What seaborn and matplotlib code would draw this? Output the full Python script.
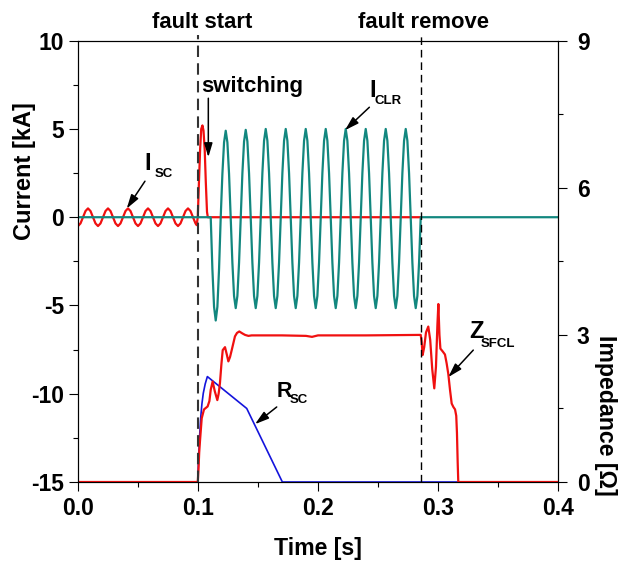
import numpy as np
import matplotlib
matplotlib.use("Agg")
import matplotlib.pyplot as plt
import seaborn as sns
from matplotlib import font_manager
from matplotlib.ticker import MultipleLocator, FixedLocator, FixedFormatter
import matplotlib.transforms as mtransforms

# ---------------- data ----------------
# Short-circuit current I_SC [kA]: pre-fault 60 Hz load current (8 samples / cycle)
isc_pre_vals = [-0.50, -0.35, 0.00, 0.35, 0.50, 0.35, 0.00, -0.35,
                -0.50, -0.35, 0.00, 0.35, 0.50, 0.35, 0.00, -0.35,
                -0.50, -0.35, 0.00, 0.35, 0.50, 0.35, 0.00, -0.35,
                -0.50, -0.35, 0.00, 0.35, 0.50, 0.35, 0.00, -0.35,
                -0.50, -0.35, 0.00, 0.35, 0.50, 0.35, 0.00, -0.35,
                -0.50, -0.35, 0.00, 0.35, 0.50, 0.35, 0.00, -0.35]
isc_pre_t = np.linspace(0.0, 47 / 480, 48)
# fault spike then commutation to zero
isc_post_t = [0.0989, 0.0998, 0.1008, 0.1018, 0.1027, 0.1037, 0.1046, 0.1056,
              0.1065, 0.1075, 0.1082, 0.2856]
isc_post_vals = [-0.45, 0.00, 2.00, 3.90, 5.00, 5.20, 4.90, 3.80,
                 2.00, 0.30, 0.00, 0.00]

# Current through the current-limiting reactor I_CLR [kA] (12 samples / cycle)
iclr_vals = [
    0.00, -2.93, -5.07, -5.85, -5.07, -2.93,
    0.00, 2.45, 4.24, 4.90, 4.24, 2.45,
    0.00, -2.58, -4.46, -5.15, -4.46, -2.58,
    0.00, 2.48, 4.29, 4.95, 4.29, 2.48,
    0.00, -2.58, -4.46, -5.15, -4.46, -2.58,
    0.00, 2.50, 4.33, 5.00, 4.33, 2.50,
    0.00, -2.58, -4.46, -5.15, -4.46, -2.58,
    0.00, 2.50, 4.33, 5.00, 4.33, 2.50,
    0.00, -2.58, -4.46, -5.15, -4.46, -2.58,
    0.00, 2.50, 4.33, 5.00, 4.33, 2.50,
    0.00, -2.58, -4.46, -5.15, -4.46, -2.58,
    0.00, 2.50, 4.33, 5.00, 4.33, 2.50,
    0.00, -2.58, -4.46, -5.15, -4.46, -2.58,
    0.00, 2.50, 4.33, 5.00, 4.33, 2.50,
    0.00, -2.58, -4.46, -5.15, -4.46, -2.58,
    0.00, 2.50, 4.33, 5.00, 4.33, 2.50,
    0.00, -2.58, -4.46, -5.15, -4.46, -2.58,
    0.00, 2.50, 4.33, 5.00, 4.33, 2.50,
    0.00, -2.58, -4.46, -5.15, -4.46, -2.58,
    0.00, 2.50, 4.33, 5.00, 4.33, 2.50,
    0.00, -2.58, -4.46, -5.15, -4.46, -2.58,
    0.00,
]
iclr_t_osc = np.linspace(0.1106, 0.2856, len(iclr_vals))

# SFCL impedance Z_SFCL [ohm]
z_t = [0.0, 0.0998, 0.1004, 0.1010, 0.1017, 0.1031, 0.1050, 0.1080, 0.1095,
       0.1106, 0.1122, 0.1140, 0.1161, 0.1172, 0.1183, 0.1195, 0.1206, 0.1225,
       0.1240, 0.1253, 0.1267, 0.1281, 0.1308, 0.1325, 0.1344, 0.1370, 0.1392,
       0.1420, 0.1447, 0.1700, 0.1900, 0.1950, 0.2000, 0.2400, 0.2856, 0.2864,
       0.2872, 0.2885, 0.2900, 0.2919, 0.2935, 0.2952, 0.2969, 0.2983, 0.2995,
       0.3003, 0.3012, 0.3020, 0.3040, 0.3058, 0.3072, 0.3086, 0.3100, 0.3114,
       0.3128, 0.3142, 0.3152, 0.3158, 0.3164, 0.3169, 0.4000]
z_vals = [0.00, 0.00, 0.25, 0.60, 0.85, 1.30, 1.48, 1.54, 1.65,
          1.88, 2.05, 1.85, 1.67, 1.80, 2.02, 2.40, 2.69, 2.75,
          2.60, 2.46, 2.55, 2.69, 2.97, 3.04, 3.07, 3.03, 3.00,
          2.98, 2.99, 2.99, 2.98, 2.96, 2.99, 2.99, 3.00, 2.85,
          2.59, 2.75, 3.05, 3.17, 2.90, 2.30, 1.91, 2.35, 3.20,
          3.63, 3.00, 2.72, 2.66, 2.60, 2.42, 2.20, 1.88, 1.60,
          1.53, 1.48, 1.35, 1.00, 0.40, 0.00, 0.00]

# Superconducting element resistance R_SC [ohm]
r_t = [0.0998, 0.1002, 0.1008, 0.1015, 0.1023, 0.1033, 0.1044, 0.1060,
       0.1078, 0.1406, 0.1703, 0.4000]
r_vals = [0.00, 0.30, 0.65, 1.00, 1.33, 1.60, 1.81, 2.00,
          2.15, 1.50, 0.00, 0.00]

fault_start = 0.0998
fault_remove = 0.2857

x_ticks = [0.0, 0.1, 0.2, 0.3, 0.4]
x_ticklabels = ["0.0", "0.1", "0.2", "0.3", "0.4"]
y1_ticks = [-15, -10, -5, 0, 5, 10]
y2_ticks = [0, 3, 6, 9]

# ---------------- style ----------------
sns.set_style("ticks")
available = {f.name for f in font_manager.fontManager.ttflist}
main_font = "Liberation Sans Narrow" if "Liberation Sans Narrow" in available else "Liberation Sans"
plt.rcParams["font.family"] = [main_font, "DejaVu Sans"]
plt.rcParams.update({
    "font.weight": "bold",
    "axes.labelweight": "bold",
    "axes.edgecolor": "black",
    "axes.labelcolor": "black",
    "text.color": "black",
    "xtick.color": "black",
    "ytick.color": "black",
    "axes.linewidth": 0.8,
    "axes.unicode_minus": False,
})

RED = "#f01010"
TEAL = "#12877f"
BLUE = "#1414dc"

fig = plt.figure(figsize=(6.18, 5.61), dpi=100)
ax1 = fig.add_axes([78 / 618, 1 - 482 / 561, 480 / 618, 441.3 / 561])
ax2 = ax1.twinx()

# currents (left axis)
sns.lineplot(x=np.concatenate([isc_pre_t, isc_post_t]),
             y=np.concatenate([isc_pre_vals, isc_post_vals]),
             ax=ax1, color=RED, lw=1.6, estimator=None, sort=False)
sns.lineplot(x=np.concatenate([[0.0], iclr_t_osc, [0.4]]),
             y=np.concatenate([[0.0], iclr_vals, [0.0]]),
             ax=ax1, color=TEAL, lw=1.6, estimator=None, sort=False)

# impedances (right axis)
sns.lineplot(x=r_t, y=r_vals, ax=ax2, color=BLUE, lw=1.2, estimator=None, sort=False)
sns.lineplot(x=z_t, y=z_vals, ax=ax2, color=RED, lw=1.6, estimator=None, sort=False)

# axes limits and ticks
ax1.set_xlim(0.0, 0.4)
ax1.set_ylim(-15, 10)
ax2.set_ylim(0, 9)
ax1.xaxis.set_major_locator(FixedLocator(x_ticks))
ax1.xaxis.set_major_formatter(FixedFormatter(x_ticklabels))
ax1.xaxis.set_minor_locator(MultipleLocator(0.05))
ax1.yaxis.set_major_locator(FixedLocator(y1_ticks))
ax1.yaxis.set_minor_locator(MultipleLocator(2.5))
ax2.yaxis.set_major_locator(FixedLocator(y2_ticks))
ax2.yaxis.set_minor_locator(MultipleLocator(1.5))

for ax in (ax1, ax2):
    ax.tick_params(which="major", direction="out", length=6.5, width=0.8, labelsize=16.5)
    ax.tick_params(which="minor", direction="out", length=3.4, width=0.8)
    for sp in ax.spines.values():
        sp.set_visible(True)
        sp.set_linewidth(0.8)
        sp.set_color("black")
ax1.tick_params(axis="x", pad=4.5)
ax1.tick_params(axis="y", pad=3.5)
ax2.tick_params(axis="y", pad=7)
for lab in ax1.get_xticklabels() + ax1.get_yticklabels() + ax2.get_yticklabels():
    lab.set_fontweight("bold")

ax1.set_xlabel("Time [s]", fontsize=16.7, fontweight="bold")
ax1.xaxis.set_label_coords(0.5, -0.125)
ax1.set_ylabel("Current [kA]", fontsize=17, fontweight="bold")
ax1.yaxis.set_label_coords(-0.087, 0.705)
ax2.set_ylabel("Impedance [Ω]", fontsize=16.7, fontweight="bold", rotation=270, va="bottom")
ax2.yaxis.set_label_coords(1.075, 0.152)

# fault markers
ax2.axvline(fault_start, ymin=0, ymax=1.012, color="#333333", lw=1.5,
            ls=(0, (5.5, 3.0)), clip_on=False, zorder=5)
ax2.axvline(fault_remove, ymin=0, ymax=1.012, color="black", lw=1.0,
            ls=(0, (5.5, 3.5)), clip_on=False, zorder=5)
trans = mtransforms.blended_transform_factory(ax1.transData, ax1.transAxes)
ax1.text(0.1038, 1.0277, "fault start", transform=trans, ha="center", va="baseline",
         fontsize=15.8, fontweight="bold")
ax1.text(0.2883, 1.0277, "fault remove", transform=trans, ha="center", va="baseline",
         fontsize=15.8, fontweight="bold")

arrow = dict(arrowstyle="-|>,head_length=0.6,head_width=0.18", color="black",
             lw=1.1, mutation_scale=14, shrinkA=0, shrinkB=0)

# switching
ax2.text(0.1025, 7.10, "switching", transform=ax1.transData, ha="left", va="baseline",
         fontsize=16, fontweight="bold")
ax2.annotate("", xy=(0.1086, 3.40), xycoords=ax1.transData,
             xytext=(0.1086, 6.74), textcoords=ax1.transData, arrowprops=arrow)

# I_SC
ax2.text(0.0550, 2.66, "I", transform=ax1.transData, ha="left", va="baseline",
         fontsize=17, fontweight="bold")
ax2.text(0.0642, 2.27, "SC", transform=ax1.transData, ha="left", va="baseline",
         fontsize=9.5, fontweight="bold")
ax2.annotate("", xy=(0.0406, 0.49), xycoords=ax1.transData,
             xytext=(0.0558, 2.04), textcoords=ax1.transData, arrowprops=arrow)

# I_CLR
ax2.text(0.2425, 6.82, "I", transform=ax1.transData, ha="left", va="baseline",
         fontsize=17, fontweight="bold")
ax2.text(0.2467, 6.40, "CLR", transform=ax1.transData, ha="left", va="baseline",
         fontsize=9.5, fontweight="bold")
ax2.annotate("", xy=(0.2225, 4.93), xycoords=ax1.transData,
             xytext=(0.2428, 6.23), textcoords=ax1.transData, arrowprops=arrow)

# R_SC
ax2.text(0.1656, 1.74, "R", ha="left", va="baseline", fontsize=15.5, fontweight="bold")
ax2.text(0.1761, 1.61, "SC", ha="left", va="baseline", fontsize=9.5, fontweight="bold")
ax2.annotate("", xy=(0.1475, 1.18), xytext=(0.1656, 1.53), arrowprops=arrow)

# Z_SFCL
ax2.text(0.3261, 2.93, "Z", ha="left", va="baseline", fontsize=17, fontweight="bold")
ax2.text(0.3356, 2.76, "SFCL", ha="left", va="baseline", fontsize=9.5, fontweight="bold")
ax2.annotate("", xy=(0.3086, 2.14), xytext=(0.3294, 2.69), arrowprops=arrow)

fig.savefig("out.png", dpi=100, facecolor="white")
